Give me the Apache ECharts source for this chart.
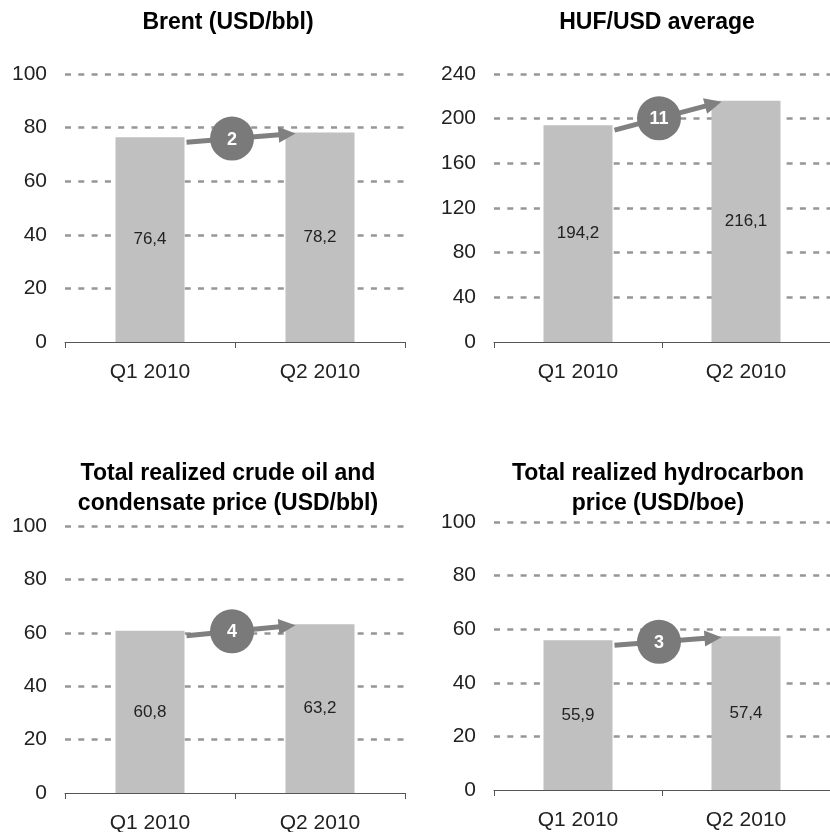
<!DOCTYPE html>
<html lang="en">
<head>
    <meta charset="UTF-8">
    <title>Price indicators Q1-Q2 2010</title>
    <script src="https://cdn.jsdelivr.net/npm/echarts@6/dist/echarts.min.js"></script>
    <style>
        html, body { margin: 0; padding: 0; background: #fff; }
    </style>
</head>
<body>
<div id="main" style="width: 830px;height:832px;"></div>
<script type="text/javascript">
    // data
    var categories = ['Q1 2010', 'Q2 2010'];
    var titles = [
        'Brent (USD/bbl)',
        'HUF/USD average',
        'Total realized crude oil and\ncondensate price (USD/bbl)',
        'Total realized hydrocarbon\nprice (USD/boe)'
    ];
    var brent = [76.4, 78.2];
    var hufUsd = [194.2, 216.1];
    var crudeOil = [60.8, 63.2];
    var hydrocarbon = [55.9, 57.4];
    var changes = [2, 11, 4, 3];
    var yMax = [100, 240, 100, 100];
    var yStep = [20, 40, 20, 20];

    var seriesData = [brent, hufUsd, crudeOil, hydrocarbon];

    var FONT = '"Liberation Sans", Arial, sans-serif';
    var BAR_W = 69;

    // plot areas of the four panels
    var grids = [
        {left: 65, right: 425, top: 74, bottom: 490},
        {left: 494, right: 0, top: 74, bottom: 490},
        {left: 65, right: 425, top: 526, bottom: 39},
        {left: 494, right: 0, top: 522, bottom: 42}
    ];
    var titlePos = [[228, 23], [657, 23], [228, 489], [658, 489]];

    function fmt(v) {
        return v.toFixed(1).replace('.', ',');
    }

    // arrow + circle with the change between the two bars
    function renderArrow(params, api) {
        var a = api.coord([0, api.value(1)]);
        var b = api.coord([1, api.value(2)]);
        var sx = a[0] + BAR_W / 2 + 2, sy = a[1] + 5;
        var tx = b[0] - BAR_W / 2 + 10, ty = b[1] + 1;
        var dx = tx - sx, dy = ty - sy;
        var len = Math.sqrt(dx * dx + dy * dy);
        var ux = dx / len, uy = dy / len;
        var hl = 17, hw = 8;
        var bx = tx - ux * hl, by = ty - uy * hl;
        var cx = (a[0] + b[0]) / 2 - 3;
        var cy = sy + dy * (cx - sx) / dx;
        return {
            type: 'group',
            children: [
                {type: 'line', shape: {x1: sx, y1: sy, x2: bx + ux, y2: by + uy},
                    style: {stroke: '#808080', lineWidth: 5}},
                {type: 'polygon', shape: {points: [[tx, ty], [bx - uy * hw, by + ux * hw], [bx + uy * hw, by - ux * hw]]},
                    style: {fill: '#808080'}},
                {type: 'circle', shape: {cx: cx, cy: cy, r: 22}, style: {fill: '#7a7a7a'}},
                {type: 'text', x: cx, y: cy + 1,
                    style: {text: String(api.value(3)), fill: '#fff', font: 'bold 18px ' + FONT,
                        align: 'center', verticalAlign: 'middle',
                        shadowColor: 'rgba(0,0,0,0.7)', shadowBlur: 2, shadowOffsetX: 1, shadowOffsetY: 1}}
            ]
        };
    }

    var myChart = echarts.init(document.getElementById('main'));

    var gridList = [], xAxes = [], yAxes = [], series = [], graphics = [];
    for (var i = 0; i < 4; i++) {
        gridList.push({left: grids[i].left, right: grids[i].right, top: grids[i].top,
            bottom: grids[i].bottom, outerBoundsMode: 'none'});
        xAxes.push({
            type: 'category', gridIndex: i, data: categories,
            axisLine: {lineStyle: {color: '#555', width: 1}},
            axisTick: {show: true, length: 6, lineStyle: {color: '#555'}},
            axisLabel: {fontSize: 21, color: '#222', fontFamily: FONT, margin: 20}
        });
        yAxes.push({
            type: 'value', gridIndex: i, min: 0, max: yMax[i], interval: yStep[i],
            axisLine: {show: false}, axisTick: {show: false},
            axisLabel: {fontSize: 21, color: '#222', fontFamily: FONT, margin: 18},
            splitLine: {show: true, showMinLine: false,
                lineStyle: {color: '#969696', width: 2.5, type: [6, 7.3]}}
        });
        series.push({
            type: 'bar', xAxisIndex: i, yAxisIndex: i, data: seriesData[i],
            barWidth: BAR_W, itemStyle: {color: '#c0c0c0'},
            label: {show: true, position: 'inside', color: '#222', fontSize: 17, fontFamily: FONT,
                formatter: function (p) { return fmt(p.value); }},
            silent: true, animation: false
        });
        series.push({
            type: 'custom', xAxisIndex: i, yAxisIndex: i, z: 5,
            data: [[0, seriesData[i][0], seriesData[i][1], changes[i]]],
            renderItem: renderArrow, silent: true, animation: false
        });
        graphics.push({
            type: 'text', x: titlePos[i][0], y: titlePos[i][1],
            style: {text: titles[i], font: 'bold 23px ' + FONT, fill: '#000',
                align: 'center', verticalAlign: 'middle', lineHeight: 30}
        });
    }

    var option = {
        backgroundColor: '#fff',
        animation: false,
        grid: gridList,
        xAxis: xAxes,
        yAxis: yAxes,
        series: series,
        graphic: graphics
    };
    myChart.setOption(option);
</script>
</body>
</html>
